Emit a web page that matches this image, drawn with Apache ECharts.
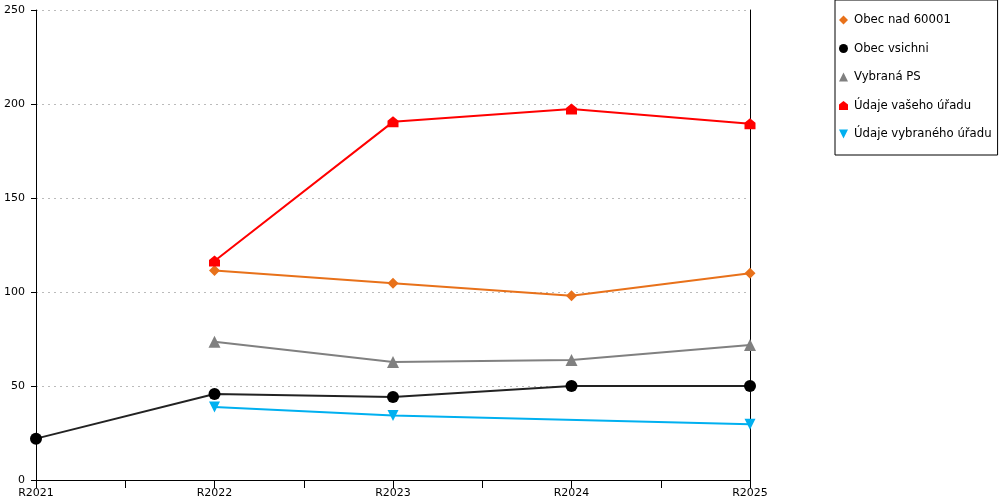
<!doctype html>
<html>
<head>
<meta charset="UTF-8">
<title>Graf</title>
<script src="https://cdn.jsdelivr.net/npm/echarts@6/dist/echarts.min.js"></script>
<style>
html, body { margin: 0; padding: 0; background: #fff; }
#graf { width: 1000px; height: 500px; }
</style>
</head>
<body>
<div id="graf"></div>
<script type="text/javascript">
// kategorie (roky)
var roky = ['R2021', 'R2022', 'R2023', 'R2024', 'R2025'];
var yTicks = [0, 50, 100, 150, 200, 250];

// hodnoty serii
var obecNad60001 = [null, 111.5, 104.7, 98, 110];
var obecVsichni = [22, 45.7, 44.2, 50, 50];
var vybranaPS = [null, 73.6, 62.8, 63.8, 71.8];
var udajeVasehoUradu = [null, 116.5, 190.5, 197.3, 189.5];
var udajeVybranehoUradu = [null, 38.8, 34.3, null, 29.6];

var jmena = ['Obec nad 60001', 'Obec vsichni', 'Vybraná PS', 'Údaje vašeho úřadu', 'Údaje vybraného úřadu'];
var barvy = ['#E8711A', '#000000', '#808080', '#FF0000', '#00B0F0'];

var domek = 'path://M5,0 L10,4 L10,10 L0,10 L0,4 Z';

function body(arr) {
	var out = [];
	for (var i = 0; i < arr.length; i++) {
		out.push([i, arr[i] == null ? '-' : arr[i]]);
	}
	return out;
}

function serie(idx, arr, symbol, size, rotate, lineColor) {
	return {
		name: jmena[idx],
		type: 'line',
		data: body(arr),
		symbol: symbol,
		symbolSize: size,
		symbolRotate: rotate || 0,
		connectNulls: true,
		yAxisIndex: 0,
		itemStyle: { color: barvy[idx] },
		lineStyle: { color: lineColor || barvy[idx], width: 2 },
		emphasis: { disabled: true },
		animation: false
	};
}

var chart = echarts.init(document.getElementById('graf'));
var option = {
	textStyle: { fontFamily: 'DejaVu Sans' },
	grid: { left: 36, top: 10, right: 250, bottom: 20 },
	legend: {
		orient: 'vertical',
		left: 835,
		top: 0,
		padding: [14, 6, 15, 4],
		borderColor: '#000',
		borderWidth: 1,
		itemGap: 16.5,
		itemWidth: 9,
		itemHeight: 9,
		textStyle: { color: '#000', fontSize: 11.7, lineHeight: 12, fontFamily: 'DejaVu Sans', padding: [0, 0, 0, 1] },
		data: [
			{ name: jmena[0], icon: 'diamond' },
			{ name: jmena[1], icon: 'circle' },
			{ name: jmena[2], icon: 'triangle' },
			{ name: jmena[3], icon: domek },
			{ name: jmena[4], icon: 'path://M0,0 L10,0 L5,10 Z' }
		]
	},
	xAxis: {
		type: 'value',
		min: 0,
		max: roky.length - 1,
		interval: 0.5,
		splitLine: { show: false },
		axisLine: { lineStyle: { color: '#000', width: 1 } },
		axisTick: { show: true, length: 8, lineStyle: { color: '#000' } },
		axisLabel: {
			color: '#000',
			fontSize: 11,
			margin: 8,
			showMinLabel: true,
			showMaxLabel: true,
			formatter: function (v) {
				return (v % 1 === 0) ? roky[v] : '';
			}
		}
	},
	yAxis: [{
		type: 'value',
		min: yTicks[0],
		max: yTicks[yTicks.length - 1],
		interval: 50,
		axisLine: { show: true, lineStyle: { color: '#000', width: 1 } },
		axisTick: { show: true, length: 5, lineStyle: { color: '#000' } },
		axisLabel: { color: '#000', fontSize: 11, margin: 11 },
		splitLine: { show: true, lineStyle: { color: '#bbbbbb', type: [2, 4], width: 1 } }
	}, {
		type: 'value',
		position: 'right',
		min: yTicks[0],
		max: yTicks[yTicks.length - 1],
		interval: 50,
		axisLine: { show: true, lineStyle: { color: '#000', width: 1 } },
		axisTick: { show: false },
		axisLabel: { show: false },
		splitLine: { show: false }
	}],
	series: [
		serie(0, obecNad60001, 'diamond', 11),
		serie(1, obecVsichni, 'circle', 12, 0, '#222222'),
		serie(2, vybranaPS, 'triangle', 12),
		serie(3, udajeVasehoUradu, domek, 11),
		serie(4, udajeVybranehoUradu, 'triangle', 11, 180)
	]
};
chart.setOption(option);
</script>
</body>
</html>
